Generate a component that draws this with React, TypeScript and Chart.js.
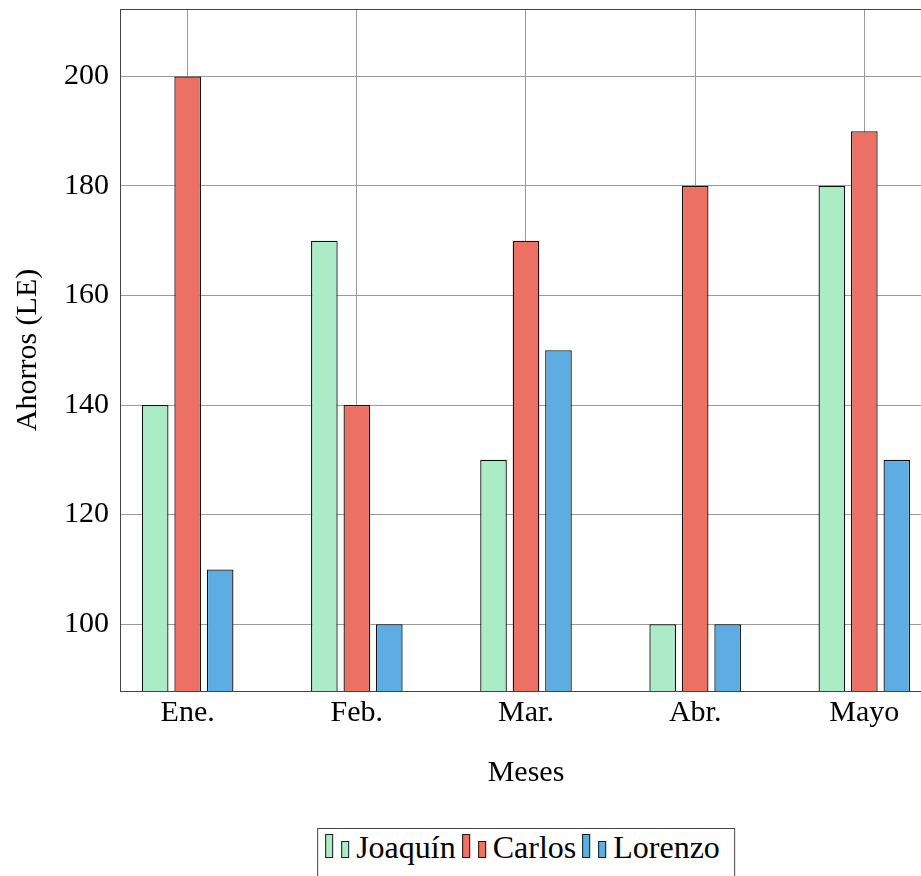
import React, { useEffect, useRef } from 'react';
import { Chart, registerables } from 'chart.js';

Chart.register(...registerables);

const categories = ['Ene.', 'Feb.', 'Mar.', 'Abr.', 'Mayo'];
const joaquin = [140, 170, 130, 100, 180];
const carlos = [200, 140, 170, 180, 190];
const lorenzo = [110, 100, 150, 100, 130];
const yTicks = [100, 120, 140, 160, 180, 200];
const seriesNames = ['Joaquín', 'Carlos', 'Lorenzo'];
const seriesColors = ['#ABEBC6', '#EC7063', '#5DADE2'];
const seriesValues = [joaquin, carlos, lorenzo];
const yTitle = 'Ahorros (LE)';
const xTitle = 'Meses';

const FONT = "'Liberation Serif', 'Times New Roman', serif";

const boxPlugin = {
  id: 'plotBox',
  afterDatasetsDraw(chart: any) {
    const { ctx, chartArea: a } = chart;
    ctx.save();
    ctx.strokeStyle = '#444';
    ctx.lineWidth = 1;
    ctx.strokeRect(a.left + 0.5, a.top + 0.5, a.right - a.left - 1, a.bottom - a.top);
    ctx.restore();
  },
};

export default function App() {
  const ref = useRef<HTMLCanvasElement>(null);

  useEffect(() => {
    const datasets = seriesNames.map((name, s) => ({
      label: name,
      data: categories.map((_, i) => ({ x: i, y: seriesValues[s][i] })),
      backgroundColor: seriesColors[s],
      borderColor: '#111',
      borderWidth: 1.3,
      categoryPercentage: 0.576,
      barPercentage: 0.82,
    }));
    const chart = new Chart(ref.current!, {
      type: 'bar',
      data: { datasets },
      plugins: [boxPlugin],
      options: {
        responsive: false,
        animation: false,
        devicePixelRatio: 1,
        layout: { padding: { top: 9, right: 8, left: 0, bottom: 0 } },
        plugins: { legend: { display: false }, tooltip: { enabled: false } },
        scales: {
          x: {
            type: 'linear',
            min: -0.4,
            max: 4.4,
            offset: false,
            grid: { offset: false, color: '#9a9a9a', lineWidth: 1, drawTicks: false },
            border: { display: false },
            afterBuildTicks: (scale: any) => {
              scale.ticks = categories.map((_, i) => ({ value: i }));
            },
            afterFit: (scale: any) => {
              scale.height = 109;
              scale.paddingLeft = 0;
              scale.paddingRight = 0;
            },
            ticks: {
              includeBounds: false,
              autoSkip: false,
              maxRotation: 0,
              padding: 4,
              color: '#000',
              font: { family: FONT, size: 30 },
              callback: (_v: any, i: number) => categories[i],
            },
            title: {
              display: true,
              text: xTitle,
              color: '#000',
              font: { family: FONT, size: 30 },
              padding: { top: 0, bottom: 9 },
            },
          },
          y: {
            type: 'linear',
            min: 87.8,
            max: 212.3,
            grid: { color: '#9a9a9a', lineWidth: 1, drawTicks: false },
            border: { display: false },
            afterBuildTicks: (scale: any) => {
              scale.ticks = yTicks.map((v) => ({ value: v }));
            },
            afterFit: (scale: any) => {
              scale.width = 120;
              scale.paddingTop = 0;
              scale.paddingBottom = 0;
            },
            ticks: {
              padding: 11,
              color: '#000',
              font: { family: FONT, size: 30 },
              callback: (v: any) => String(v),
            },
            title: {
              display: true,
              text: yTitle,
              color: '#000',
              font: { family: FONT, size: 30 },
              padding: { top: 10, bottom: 0 },
            },
          },
        },
      } as any,
    });
    return () => chart.destroy();
  }, []);

  return (
    <div
      style={{
        position: 'fixed',
        left: 0,
        top: 0,
        width: 921,
        height: 876,
        overflow: 'hidden',
        background: '#fff',
      }}
    >
      <canvas
        ref={ref}
        width={940}
        height={800}
        style={{ position: 'absolute', left: 0, top: 0, width: 940, height: 800 }}
      />
      <div
        style={{
          position: 'absolute',
          left: 526,
          top: 828,
          transform: 'translateX(-50%)',
          border: '1px solid #444',
          height: 70,
          whiteSpace: 'nowrap',
          fontFamily: FONT,
          fontSize: 32,
          lineHeight: '36px',
          padding: '0 14px 0 7px',
          color: '#000',
        }}
      >
        {seriesNames.map((name, s) => (
          <span key={name} style={{ marginLeft: s === 0 ? 0 : 6 }}>
            <span
              style={{
                display: 'inline-block',
                width: 8,
                height: 24,
                boxSizing: 'border-box',
                border: '1px solid #1a1a1a',
                background: seriesColors[s],
                marginRight: 8,
              }}
            />
            <span
              style={{
                display: 'inline-block',
                width: 8,
                height: 17,
                boxSizing: 'border-box',
                border: '1px solid #1a1a1a',
                background: seriesColors[s],
                marginRight: 7,
              }}
            />
            {name}
          </span>
        ))}
      </div>
    </div>
  );
}
